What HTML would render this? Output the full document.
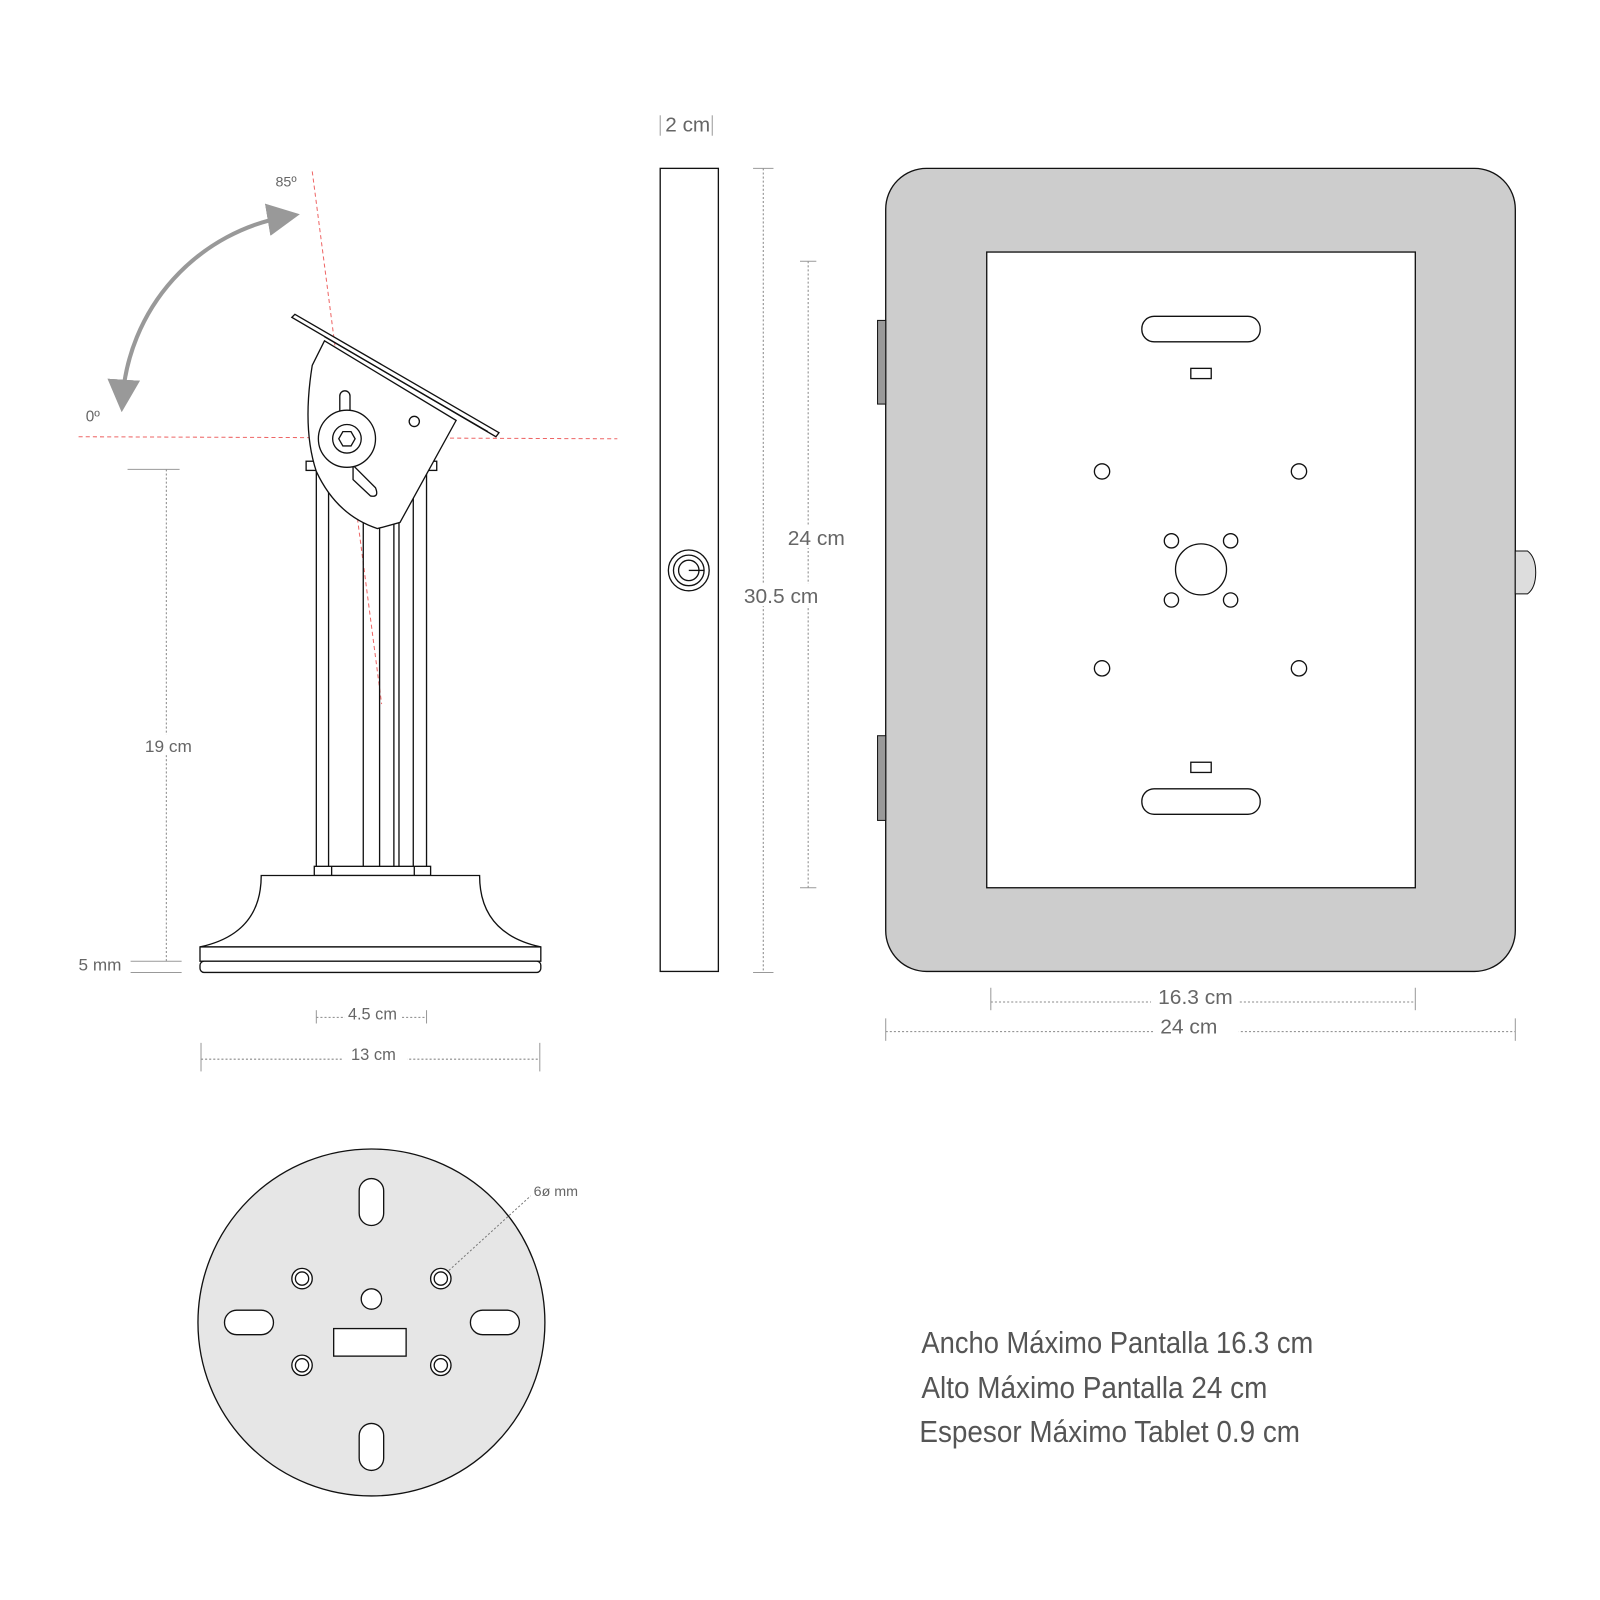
<!DOCTYPE html>
<html><head><meta charset="utf-8"><style>html,body{margin:0;padding:0;background:#fff}svg{display:block}</style></head>
<body>
<svg width="1600" height="1600" viewBox="0 0 1568 1568" xmlns="http://www.w3.org/2000/svg" font-family="Liberation Sans, sans-serif">
<defs>
<marker id="ah" markerWidth="8" markerHeight="8" refX="5" refY="4" orient="auto-start-reverse" markerUnits="strokeWidth"><path d="M0,0 L8,4 L0,8 Z" fill="#999"/></marker>
</defs>
<line x1="77" y1="428" x2="605" y2="430" stroke="#e66" stroke-width="1" stroke-dasharray="4,3"/>
<line x1="306" y1="168" x2="374" y2="690" stroke="#e66" stroke-width="1" stroke-dasharray="4,3"/>
<path d="M120,392 A195,195 0 0 1 282,212" fill="none" stroke="#999" stroke-width="4" marker-start="url(#ah)" marker-end="url(#ah)"/>
<text x="270" y="183" font-size="14" fill="#666">85º</text>
<text x="84" y="413" font-size="15" fill="#666">0º</text>
<g fill="none" stroke="#111" stroke-width="1.3">
<rect x="300" y="452" width="128" height="9" fill="#fff"/>
<line x1="310" y1="461" x2="310" y2="850"/><line x1="322" y1="461" x2="322" y2="850"/>
<line x1="356" y1="500" x2="356" y2="850"/><line x1="372" y1="500" x2="372" y2="850"/>
<line x1="386" y1="500" x2="386" y2="850"/><line x1="391" y1="500" x2="391" y2="850"/>
<line x1="405" y1="461" x2="405" y2="850"/><line x1="418" y1="461" x2="418" y2="850"/>
<rect x="308" y="849" width="114" height="9" fill="#fff"/>
<line x1="325" y1="849" x2="325" y2="858"/><line x1="406" y1="849" x2="406" y2="858"/>
<path d="M256,858 L470,858 Q470,915 530,928 L196,928 Q256,915 256,858 Z" fill="#fff"/>
<rect x="196" y="928" width="334" height="14" fill="#fff"/>
<rect x="196" y="942" width="334" height="11" rx="4" fill="#fff"/>
<path d="M318,334 L306,358 Q296,420 310,462 Q330,505 370,518 L392,512 L447,412 Z" fill="#fff"/>
<rect x="333" y="383" width="10" height="28" rx="5" fill="#fff"/>
<path d="M346,456 L368,478 Q372,488 363,486 L346,470 Z" fill="#fff"/>
<circle cx="340" cy="430" r="28" fill="#fff"/>
<circle cx="340" cy="430" r="14"/>
<polygon points="348,430 344,437 336,437 332,430 336,423 344,423"/>
<circle cx="406" cy="413" r="5"/>
<path d="M286,311 L289,308 L489,424 L486,428 Z" fill="#fff"/>
<line x1="318" y1="330" x2="478" y2="423"/>
<rect x="647" y="165" width="57" height="787" fill="#fff"/>
<circle cx="675" cy="559" r="20"/><circle cx="675" cy="559" r="15"/><circle cx="675" cy="559" r="10"/>
<line x1="675" y1="559" x2="690" y2="559"/>
</g>
<rect x="868" y="165" width="617" height="787" rx="40" fill="#cdcdcd" stroke="#111" stroke-width="1.3"/>
<rect x="860" y="314" width="8" height="82" fill="#999" stroke="#111"/>
<rect x="860" y="721" width="8" height="83" fill="#999" stroke="#111"/>
<path d="M1485,540 L1497,540 Q1505,546 1505,561 Q1505,576 1497,582 L1485,582 Z" fill="#ddd" stroke="#111"/>
<g fill="#fff" stroke="#111" stroke-width="1.3">
<rect x="967" y="247" width="420" height="623"/>
<rect x="1119" y="310" width="116" height="25" rx="12"/>
<rect x="1119" y="773" width="116" height="25" rx="12"/>
<rect x="1167" y="361" width="20" height="10"/>
<rect x="1167" y="747" width="20" height="10"/>
<circle cx="1080" cy="462" r="7.5"/><circle cx="1273" cy="462" r="7.5"/>
<circle cx="1080" cy="655" r="7.5"/><circle cx="1273" cy="655" r="7.5"/>
<circle cx="1177" cy="558" r="25"/>
<circle cx="1148" cy="530" r="7"/><circle cx="1206" cy="530" r="7"/>
<circle cx="1148" cy="588" r="7"/><circle cx="1206" cy="588" r="7"/>
</g>
<g stroke="#111" stroke-width="1.3">
<circle cx="364" cy="1296" r="170" fill="#e6e6e6"/>
<g fill="#fff">
<rect x="352" y="1155" width="24" height="46" rx="12"/>
<rect x="352" y="1395" width="24" height="46" rx="12"/>
<rect x="220" y="1284" width="48" height="24" rx="12"/>
<rect x="461" y="1284" width="48" height="24" rx="12"/>
<circle cx="364" cy="1273" r="10"/>
<rect x="327" y="1302" width="71" height="27"/>
<circle cx="296" cy="1253" r="10"/><circle cx="432" cy="1253" r="10"/>
<circle cx="296" cy="1338" r="10"/><circle cx="432" cy="1338" r="10"/>
</g>
<g fill="none">
<circle cx="296" cy="1253" r="6.5"/><circle cx="432" cy="1253" r="6.5"/>
<circle cx="296" cy="1338" r="6.5"/><circle cx="432" cy="1338" r="6.5"/>
</g>
</g>
<line x1="440" y1="1245" x2="520" y2="1172" stroke="#777" stroke-dasharray="2,2"/>
<text x="523" y="1172" font-size="14" fill="#666">6ø mm</text>
<g stroke="#888" stroke-width="1" stroke-dasharray="2,2" fill="none">
<line x1="163" y1="460" x2="163" y2="942"/>
<line x1="748" y1="165" x2="748" y2="953"/>
<line x1="792" y1="256" x2="792" y2="870"/>
<line x1="310" y1="997" x2="418" y2="997"/>
<line x1="197" y1="1038" x2="529" y2="1038"/>
<line x1="971" y1="982" x2="1387" y2="982"/>
<line x1="868" y1="1011" x2="1485" y2="1011"/>
</g>
<g stroke="#999" stroke-width="1">
<line x1="125" y1="460" x2="176" y2="460"/>
<line x1="128" y1="942" x2="178" y2="942"/>
<line x1="128" y1="953" x2="178" y2="953"/>
<line x1="738" y1="165" x2="758" y2="165"/><line x1="738" y1="953" x2="758" y2="953"/>
<line x1="784" y1="256" x2="800" y2="256"/><line x1="784" y1="870" x2="800" y2="870"/>
<line x1="647" y1="113" x2="647" y2="133"/><line x1="698" y1="113" x2="698" y2="133"/>
<line x1="310" y1="990" x2="310" y2="1003"/><line x1="418" y1="990" x2="418" y2="1003"/>
<line x1="197" y1="1022" x2="197" y2="1050"/><line x1="529" y1="1022" x2="529" y2="1050"/>
<line x1="971" y1="968" x2="971" y2="990"/><line x1="1387" y1="968" x2="1387" y2="990"/>
<line x1="868" y1="998" x2="868" y2="1020"/><line x1="1485" y1="998" x2="1485" y2="1020"/>
</g>
<g fill="#666" font-size="17">
<rect x="1128" y="965" width="86" height="22" fill="#fff"/>
<rect x="1130" y="995" width="84" height="22" fill="#fff"/>
<rect x="335" y="1025" width="64" height="20" fill="#fff"/>
<rect x="338" y="985" width="54" height="20" fill="#fff"/>
<rect x="725" y="572" width="78" height="22" fill="#fff"/>
<rect x="770" y="515" width="60" height="22" fill="#fff"/>
<rect x="140" y="720" width="50" height="20" fill="#fff"/>
<g font-size="20" lengthAdjust="spacingAndGlyphs">
<text x="652" y="129" textLength="44" lengthAdjust="spacingAndGlyphs">2 cm</text>
<text x="772" y="534" textLength="56" lengthAdjust="spacingAndGlyphs">24 cm</text>
<text x="729" y="591" textLength="73" lengthAdjust="spacingAndGlyphs">30.5 cm</text>
<text x="1135" y="984" textLength="73" lengthAdjust="spacingAndGlyphs">16.3 cm</text>
<text x="1137" y="1013" textLength="56" lengthAdjust="spacingAndGlyphs">24 cm</text>
</g>
<text x="142" y="737" font-size="16" textLength="46" lengthAdjust="spacingAndGlyphs">19  cm</text>
<text x="77" y="951" font-size="16" textLength="42" lengthAdjust="spacingAndGlyphs">5  mm</text>
<text x="341" y="999" font-size="16" textLength="48" lengthAdjust="spacingAndGlyphs">4.5 cm</text>
<text x="344" y="1039" font-size="16" textLength="44" lengthAdjust="spacingAndGlyphs">13 cm</text>
</g>
<g fill="#555" font-size="30">
<text x="903" y="1326" textLength="384" lengthAdjust="spacingAndGlyphs">Ancho Máximo Pantalla 16.3 cm</text>
<text x="903" y="1370" textLength="339" lengthAdjust="spacingAndGlyphs">Alto Máximo Pantalla  24 cm</text>
<text x="901" y="1413" textLength="373" lengthAdjust="spacingAndGlyphs">Espesor Máximo Tablet  0.9 cm</text>
</g>
</svg>
</body></html>
